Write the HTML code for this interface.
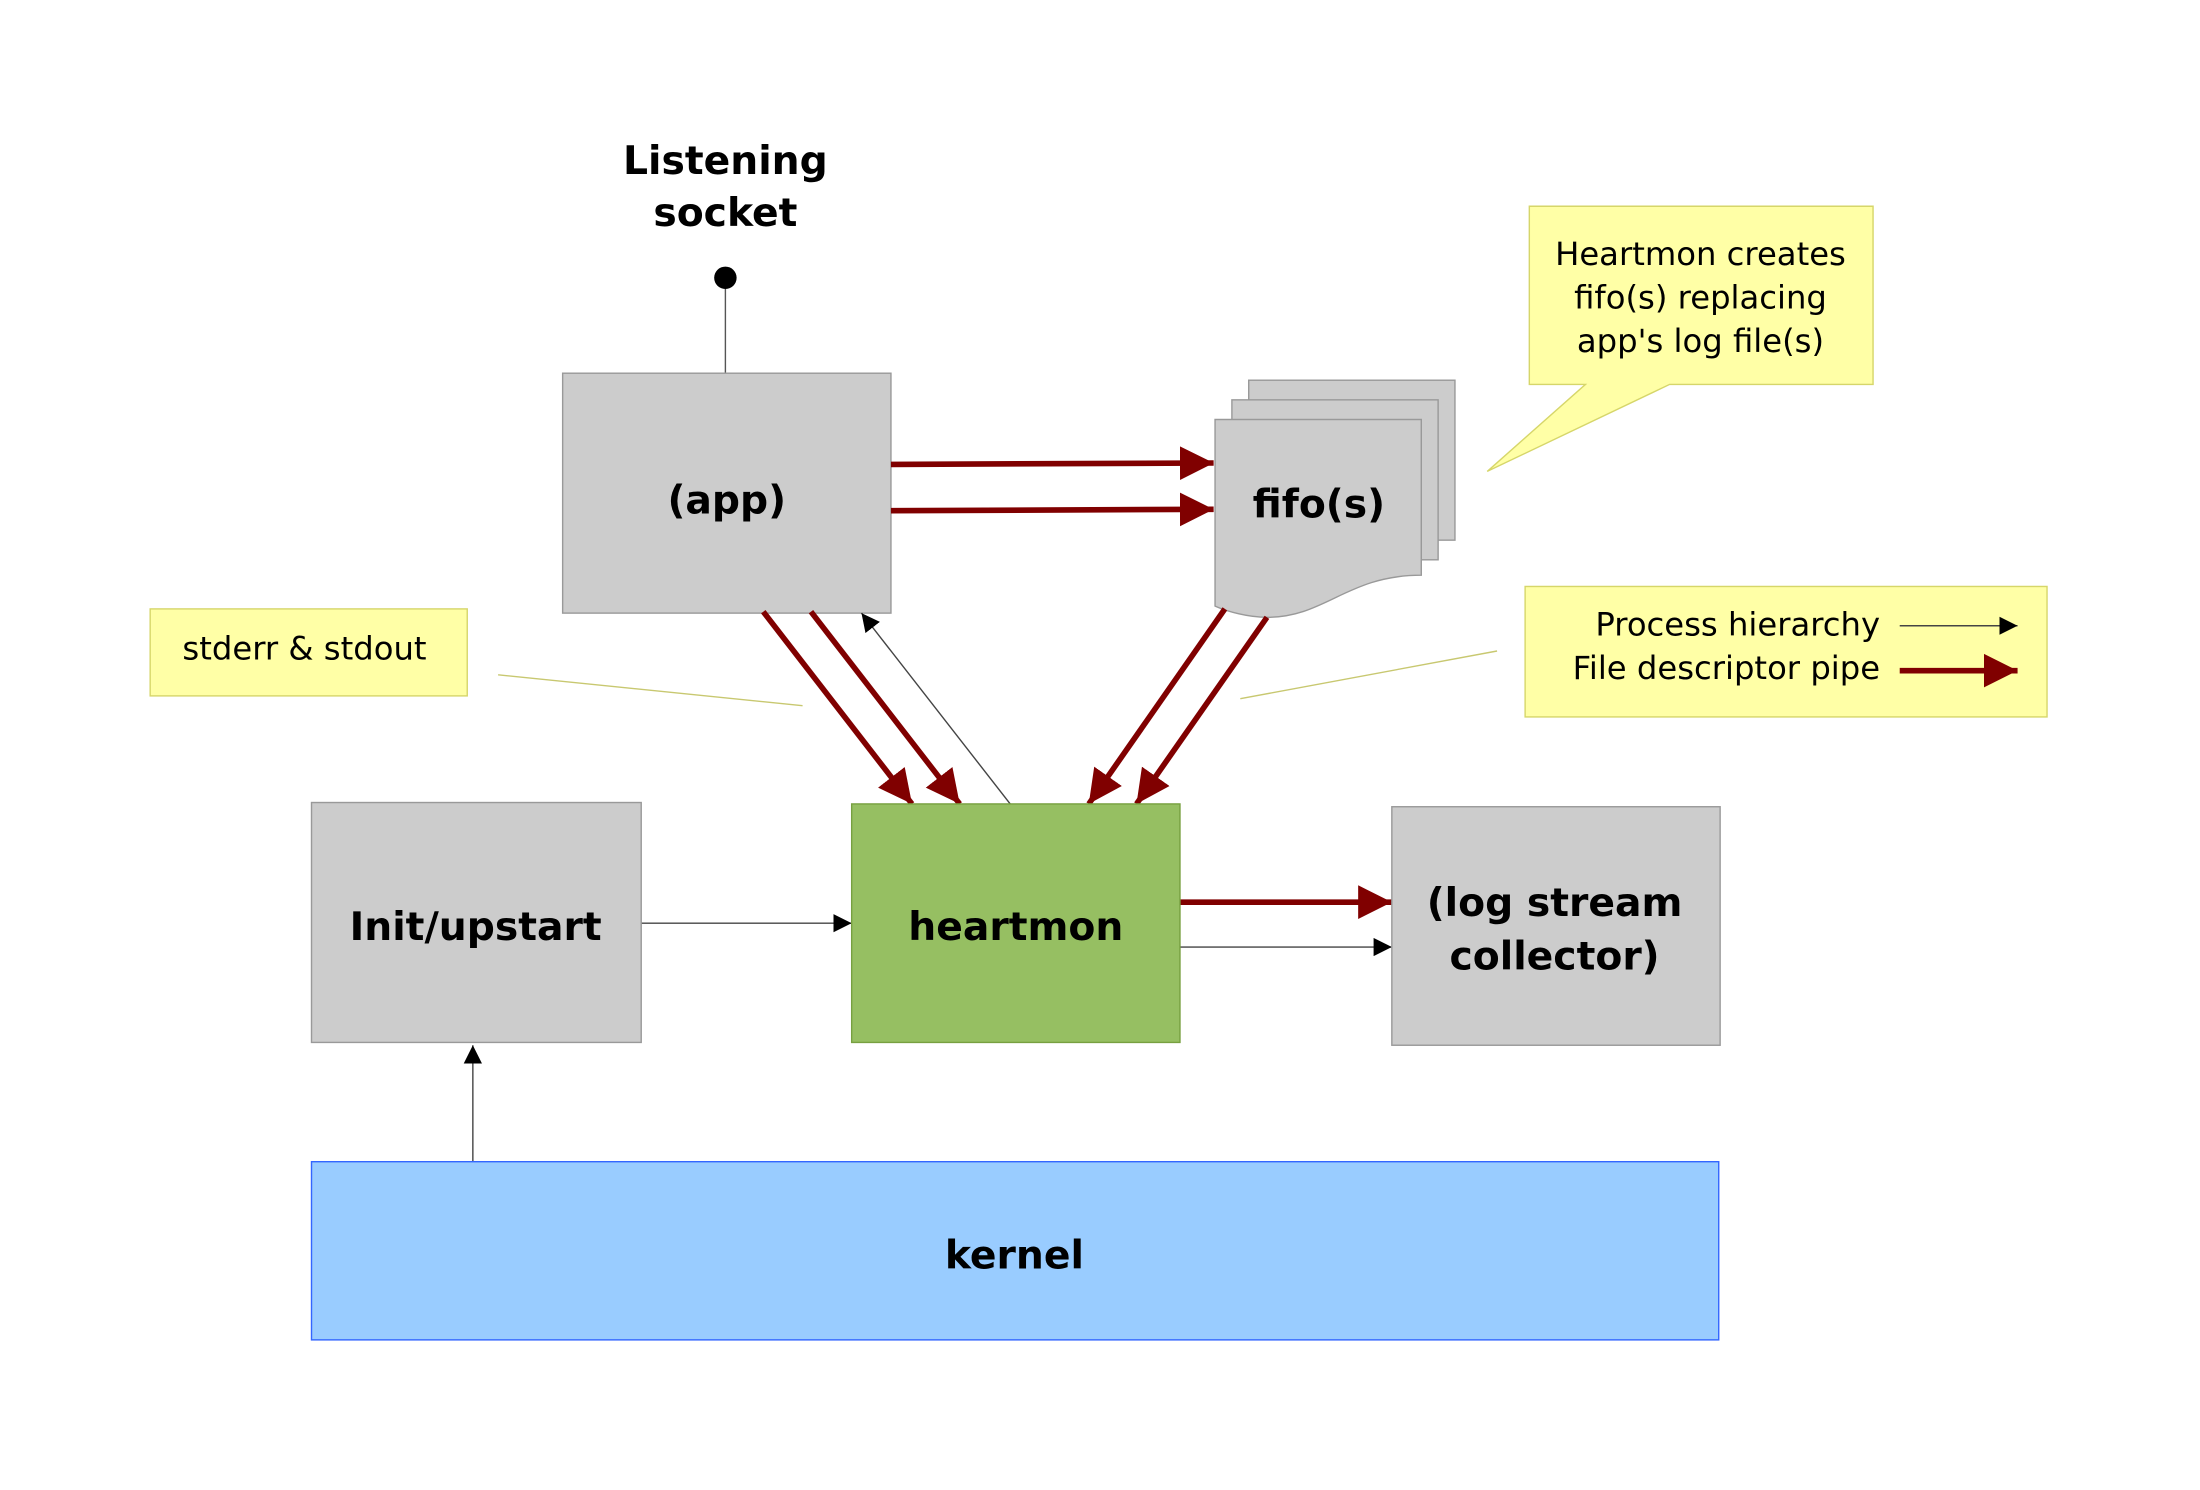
<!DOCTYPE html>
<html><head><meta charset="utf-8"><style>
html,body{margin:0;padding:0;background:#fff}
svg{display:block}
text{font-family:"DejaVu Sans","Liberation Sans",sans-serif;fill:#000}
</style></head><body>
<svg width="2200" height="1490" viewBox="0 0 1568 1062" xmlns="http://www.w3.org/2000/svg">
<defs>
<marker id="r" viewBox="0 0 10 10" refX="10" refY="5" markerWidth="6" markerHeight="6.5" markerUnits="strokeWidth" orient="auto"><path d="M0,0L10,5L0,10z" fill="#800000"/></marker>
<marker id="k" viewBox="0 0 10 10" refX="10" refY="5" markerWidth="13" markerHeight="13" markerUnits="userSpaceOnUse" orient="auto"><path d="M0,0L10,5L0,10z" fill="#000"/></marker>
</defs>
<rect width="1568" height="1062" fill="#fff"/>
<text x="517" y="124" font-size="28" font-weight="bold" text-anchor="middle">Listening</text>
<text x="517" y="161" font-size="28" font-weight="bold" text-anchor="middle">socket</text>
<line x1="517" y1="198" x2="517" y2="266" stroke="#555" stroke-width="1"/>
<circle cx="517" cy="198" r="8" fill="#000"/>
<rect x="401" y="266" width="234" height="171" fill="#cccccc" stroke="#999"/>
<text x="518" y="366" font-size="28" font-weight="bold" text-anchor="middle">(app)</text>
<rect x="890" y="271" width="147" height="114" fill="#cccccc" stroke="#999"/>
<rect x="878" y="285" width="147" height="114" fill="#cccccc" stroke="#999"/>
<path d="M866,299H1013V410C960,410 945,440 903,440C890,440 875,436 866,432Z" fill="#cccccc" stroke="#999"/>
<text x="940" y="369" font-size="28" font-weight="bold" text-anchor="middle">fifo(s)</text>
<path d="M1090,147H1335V274H1190L1060,336L1130,274H1090Z" fill="#ffffa6" stroke="#d6d66a"/>
<text font-size="23" text-anchor="middle"><tspan x="1212" y="189">Heartmon creates</tspan><tspan x="1212" y="220">fifo(s) replacing</tspan><tspan x="1212" y="251">app's log file(s)</tspan></text>
<rect x="107" y="434" width="226" height="62" fill="#ffffa6" stroke="#d6d66a"/>
<text x="130" y="470" font-size="23">stderr &amp; stdout</text>
<line x1="355" y1="481" x2="572" y2="503" stroke="#c8c870" stroke-width="1"/>
<rect x="1087" y="418" width="372" height="93" fill="#ffffa6" stroke="#d6d66a"/>
<text x="1340" y="453" font-size="23" text-anchor="end">Process hierarchy</text>
<text x="1340" y="484" font-size="23" text-anchor="end">File descriptor pipe</text>
<line x1="1067" y1="464" x2="884" y2="498" stroke="#c8c870" stroke-width="1"/>
<g stroke="#800000" stroke-width="4" fill="none" marker-end="url(#r)">
<line x1="635" y1="331" x2="865" y2="330"/>
<line x1="635" y1="364" x2="865" y2="363"/>
<line x1="544" y1="436" x2="650" y2="573"/>
<line x1="578" y1="436" x2="684" y2="573"/>
<line x1="873" y1="434" x2="776" y2="573"/>
<line x1="903" y1="440" x2="810" y2="573"/>
<line x1="841" y1="643" x2="992" y2="643"/>
<line x1="1354" y1="478" x2="1438" y2="478"/>
</g>
<g stroke="#444" stroke-width="1" fill="none" marker-end="url(#k)">
<line x1="720" y1="573" x2="614" y2="437"/>
<line x1="457" y1="658" x2="607" y2="658"/>
<line x1="841" y1="675" x2="992" y2="675"/>
<line x1="337" y1="828" x2="337" y2="745"/>
<line x1="1354" y1="446" x2="1438" y2="446"/>
</g>
<rect x="222" y="572" width="235" height="171" fill="#cccccc" stroke="#999"/>
<text x="339" y="670" font-size="28" font-weight="bold" text-anchor="middle">Init/upstart</text>
<rect x="607" y="573" width="234" height="170" fill="#96bf62" stroke="#77a040"/>
<text x="724" y="670" font-size="28" font-weight="bold" text-anchor="middle">heartmon</text>
<rect x="992" y="575" width="234" height="170" fill="#cccccc" stroke="#999"/>
<text x="1108" y="653" font-size="28" font-weight="bold" text-anchor="middle">(log stream</text>
<text x="1108" y="691" font-size="28" font-weight="bold" text-anchor="middle">collector)</text>
<rect x="222" y="828" width="1003" height="127" fill="#99ccff" stroke="#3366ff"/>
<text x="723" y="904" font-size="28" font-weight="bold" text-anchor="middle">kernel</text>
</svg>
</body></html>
